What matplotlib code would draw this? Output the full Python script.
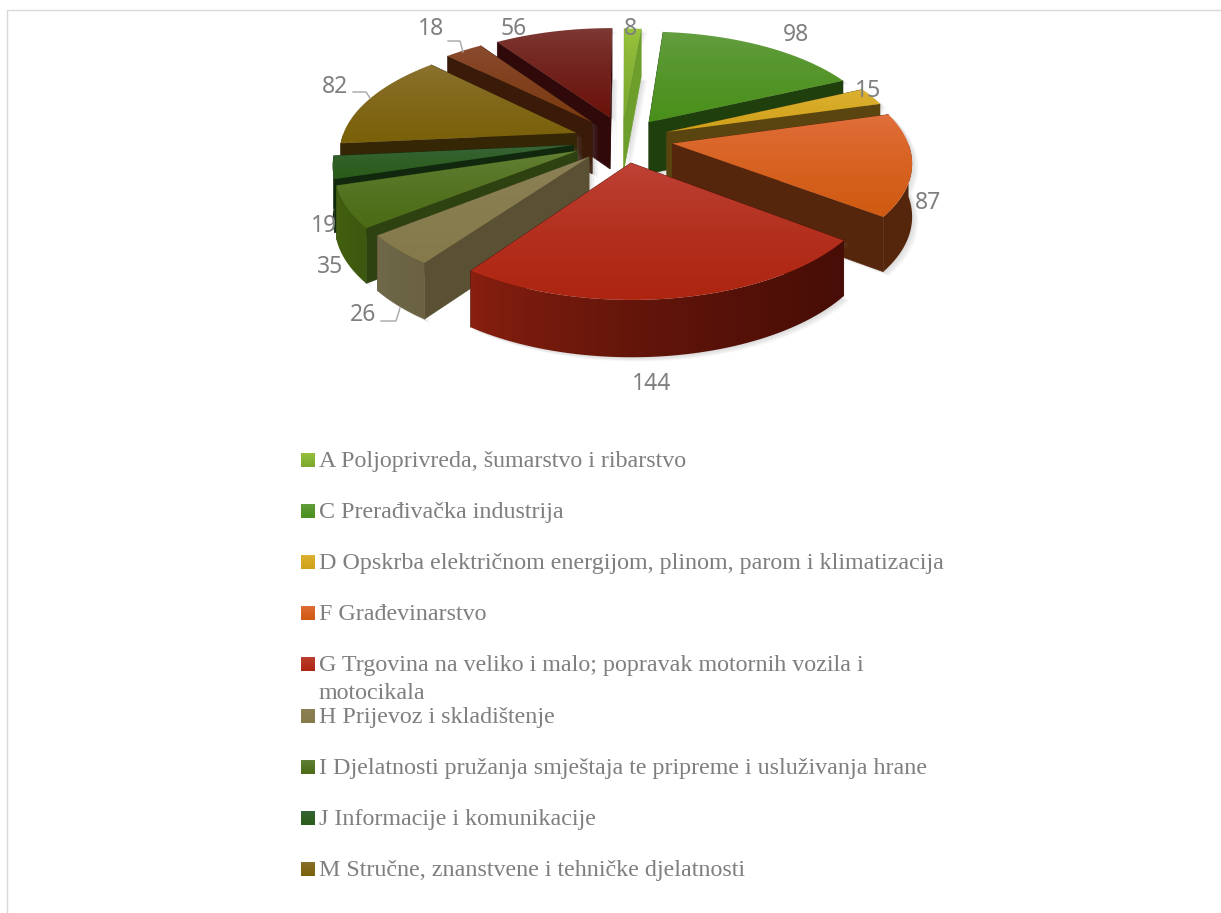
import numpy as np
import matplotlib
matplotlib.use('Agg')
from matplotlib import pyplot as plt
from matplotlib.colors import LinearSegmentedColormap
from matplotlib.patches import Polygon

values = [8, 98, 15, 87, 144, 26, 35, 19, 82, 18, 56]
value_labels = ['8', '98', '15', '87', '144', '26', '35', '19', '82', '18', '56']
legend_names = ['A Poljoprivreda, šumarstvo i ribarstvo',
                'C Prerađivačka industrija',
                'D Opskrba električnom energijom, plinom, parom i klimatizacija',
                'F Građevinarstvo',
                'G Trgovina na veliko i malo; popravak motornih vozila i\nmotocikala',
                'H Prijevoz i skladištenje',
                'I Djelatnosti pružanja smještaja te pripreme i usluživanja hrane',
                'J Informacije i komunikacije',
                'M Stručne, znanstvene i tehničke djelatnosti']

# how far each slice is pulled out, in pie radii
offset_x = [-0.009, 0.10, 0.176, 0.196, 0.02, -0.154, -0.205, -0.223, -0.214, -0.148, -0.07]
offset_y = [0.24, 0.20, 0.106, 0.0, -0.172, -0.12, -0.067, -0.014, 0.098, 0.20, 0.245]

top_light = ['#9cc63f', '#66a044', '#dfb536', '#e2703e', '#bf4438', '#8c8258', '#668239', '#3a663c', '#8c7434', '#8c4c32', '#7f3c38']
top_dark = ['#79a82c', '#4a8f1a', '#d0a018', '#d05a10', '#ad2510', '#857a4a', '#4b6b15', '#2a5c18', '#7a6008', '#7a3a10', '#6a120a']
wall_color = ['#6d9d2b', '#1f3f0c', '#5a4510', '#55260c', '#470d06', '#5a5033', '#2d4210', '#12280e', '#352606', '#3a1a08', '#30090a']
outer_left = ['#6d9d2b', '#1f3f0c', '#6a5210', '#55260c', '#8a2010', '#70694a', '#44610f', '#12280e', '#352606', '#3a1a08', '#30090a']
outer_right = ['#6d9d2b', '#1f3f0c', '#5a4510', '#55260c', '#470d06', '#6a6242', '#3d5810', '#12280e', '#352606', '#3a1a08', '#30090a']

label_x = [630, 796, 868, 928, 652, 363, 330, 324, 335, 431, 514]
label_y = [29, 35, 91, 203, 384, 315, 267, 226, 87, 29, 29]
legend_y = [460, 511, 562, 613, 664, 716, 767, 818, 869]

fig = plt.figure(figsize=(12.21, 9.13), dpi=100)
ax = fig.add_axes([0, 0, 1, 1])

# camera for the tilted pie
X0, Y0 = 626, 143.5
A, B, K = 236, 110, 0.15


def project(x, y):
    return X0 + A * x / (1 + K * y), Y0 - B * y / (1 + K * y)


def depth(y):
    return 52.4 / (1 + 0.0736 * y)


def fill_gradient(pts, c1, c2, zorder, vertical=True):
    pts = np.array(pts)
    xmin, xmax = pts[:, 0].min(), pts[:, 0].max()
    ymin, ymax = pts[:, 1].min(), pts[:, 1].max()
    cmap = LinearSegmentedColormap.from_list('g', [c1, c2])
    grad = np.linspace(0, 1, 128) ** 0.7
    grad = grad.reshape(-1, 1) if vertical else grad.reshape(1, -1)
    im = ax.imshow(grad, cmap=cmap, vmin=0, vmax=1, aspect='auto', zorder=zorder,
                   extent=(xmin - 1, xmax + 1, ymax + 1, ymin - 1))
    im.set_clip_path(Polygon(pts, closed=True, transform=ax.transData))


angles = np.cumsum([0] + values) / sum(values) * 2 * np.pi
slices = []
for i in range(len(values)):
    t = np.linspace(angles[i], angles[i + 1], 60)
    xs = offset_x[i] + np.sin(t)
    ys = offset_y[i] + np.cos(t)
    slices.append((i, t, xs, ys))

# back slices first
slices.sort(key=lambda s: -(s[3].mean() + offset_y[s[0]]))

z = 2
for i, t, xs, ys in slices:
    u, v = project(xs, ys)
    hd = depth(ys)
    ax0, ay0 = project(offset_x[i], offset_y[i])
    ah = depth(offset_y[i])
    top = [(ax0, ay0)] + list(zip(u, v))

    # soft shadow under the slice
    low = list(zip(u, v + hd)) + [(ax0, ay0 + ah)]
    for d in [1.5, 3, 4.5, 6]:
        shadow = [(p[0] + d, p[1] + d * 0.7) for p in top + low]
        ax.add_patch(Polygon(shadow, closed=True, fc='#808080', ec='none', alpha=0.07, zorder=z))
    z += 1

    walls = []
    for j in [0, -1]:
        quad = [(ax0, ay0), (u[j], v[j]), (u[j], v[j] + hd[j]), (ax0, ay0 + ah)]
        walls.append((ys[j] / 2 + offset_y[i] / 2, 'radial', quad))
    front = np.cos(t) <= 0
    if front.sum() > 1:
        quad = list(zip(u[front], v[front])) + list(zip(u[front][::-1], (v + hd)[front][::-1]))
        walls.append((ys[front].mean(), 'outer', quad))
    walls.sort(key=lambda w: -w[0])

    for _, kind, quad in walls:
        if kind == 'radial':
            ax.add_patch(Polygon(quad, closed=True, fc=wall_color[i], ec=wall_color[i], lw=0.4, zorder=z))
        else:
            fill_gradient(quad, outer_left[i], outer_right[i], z, vertical=False)
        z += 1

    fill_gradient(top, top_light[i], top_dark[i], z)
    z += 1

# value labels
for i in range(len(values)):
    ax.text(label_x[i], label_y[i], value_labels[i], fontsize=16.5, family='Noto Sans', color='#7f7f7f',
            ha='center', va='center', zorder=z)

# leader lines
ax.plot([353, 366, 370], [92, 92, 98], color='#a6a6a6', lw=1, zorder=z)
ax.plot([448, 460, 463], [41, 41, 52], color='#a6a6a6', lw=1, zorder=z)
ax.plot([381, 396, 400], [321, 321, 308], color='#a6a6a6', lw=1, zorder=z)

# legend
for i, name in enumerate(legend_names):
    y = legend_y[i]
    fill_gradient([(301, y - 7), (315, y - 7), (315, y + 7), (301, y + 7)], top_light[i], top_dark[i], z)
    for j, line in enumerate(name.split('\n')):
        ax.text(319, y + 7 + 28 * j, line, fontsize=17.3, family='Liberation Serif', color='#7f7f7f',
                ha='left', va='baseline', zorder=z)

# frame of the chart area
ax.plot([7, 7, 1221], [913, 10, 10], color='#d9d9d9', lw=1, zorder=1)

ax.set_xlim(0, 1221)
ax.set_ylim(913, 0)
ax.axis('off')
fig.savefig('out.png', dpi=100)
